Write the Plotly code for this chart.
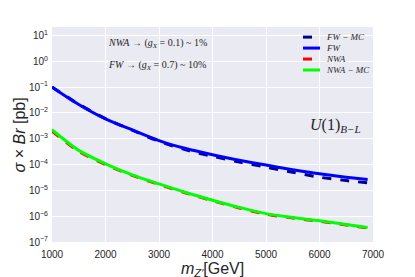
import plotly.graph_objects as go

mass = [1000, 1500, 2000, 2500, 3000, 3500, 4000, 4500, 5000, 5500, 6000, 6500, 6900]
fw_log = [-1.0, -1.67, -2.23, -2.66, -3.07, -3.38, -3.62, -3.83, -4.02, -4.2, -4.36, -4.49, -4.58]
fw_mc_log = [-0.99, -1.66, -2.22, -2.67, -3.1, -3.43, -3.68, -3.9, -4.1, -4.3, -4.49, -4.62, -4.71]
nwa_log = [-2.7, -3.49, -4.0, -4.42, -4.77, -5.1, -5.4, -5.68, -5.92, -6.07, -6.2, -6.34, -6.46]
nwa_mc_log = [-2.65, -3.45, -3.97, -4.4, -4.75, -5.08, -5.38, -5.66, -5.9, -6.05, -6.18, -6.32, -6.44]

series_names = ["FW − MC", "FW", "NWA", "NWA − MC"]
series_colors = ["#00008B", "#0000FF", "#FF0000", "#00FF00"]
series_dash = ["dash", "solid", "dash", "solid"]
series_logs = [fw_mc_log, fw_log, nwa_log, nwa_mc_log]

y_exponents = [-7, -6, -5, -4, -3, -2, -1, 0, 1]
y_ticktext = ["10<sup>" + str(e).replace("-", "−") + "</sup>" for e in y_exponents]
x_ticks = [1000, 2000, 3000, 4000, 5000, 6000, 7000]

def lin(v):
    return [10 ** x for x in v]

serif = "Liberation Serif"
txt = "#262626"
fig = go.Figure()
for name, col, dash, vals in zip(series_names, series_colors, series_dash, series_logs):
    fig.add_trace(go.Scatter(x=mass, y=lin(vals), mode="lines", name=name, showlegend=False,
                             line=dict(color=col, width=3, dash=dash, shape="spline", smoothing=0.8)))

# page body has an 8px margin; figure is sized so the plot lands where the reference has it
fig.update_layout(
    width=407, height=269,
    margin=dict(l=44, r=42, t=19, b=35),
    paper_bgcolor="white", plot_bgcolor="#EAEAF2",
    font=dict(family="Liberation Sans", size=10, color=txt),
    showlegend=False,
)
fig.update_xaxes(range=[1000, 7000], tickvals=x_ticks, ticktext=[str(v) for v in x_ticks],
                 showgrid=True, gridcolor="white", gridwidth=1,
                 zeroline=False, showline=False, ticks="", automargin=False,
                 ticklabelstandoff=5, tickfont=dict(size=10, color=txt))
fig.update_yaxes(type="log", range=[-7, 1.33], tickvals=[10.0 ** e for e in y_exponents],
                 ticktext=y_ticktext, showgrid=True,
                 gridcolor="white", gridwidth=1, zeroline=False, showline=False, ticks="",
                 automargin=False, ticklabelstandoff=3, tickfont=dict(size=10, color=txt))

# axis titles
fig.add_annotation(x=0.5, y=-0.127, xref="paper", yref="paper", xanchor="center", yanchor="middle",
                   text="<i>m</i><sub><i>Z′</i></sub>[GeV]", showarrow=False,
                   font=dict(size=16, color=txt))
fig.add_annotation(x=-0.1, y=0.5, xref="paper", yref="paper", xanchor="center", yanchor="middle",
                   text="<i>σ</i> × <i>Br</i> [pb]", showarrow=False, textangle=-90,
                   font=dict(size=16, color=txt))

# legend (drawn in paper coordinates)
leg_y = [0.953, 0.902, 0.851, 0.800]
for name, col, dash, yy in zip(series_names, series_colors, series_dash, leg_y):
    fig.add_shape(type="line", xref="paper", yref="paper", x0=0.782, x1=0.835, y0=yy, y1=yy,
                  line=dict(color=col, width=3, dash="dash" if dash == "dash" else "solid"))
    fig.add_annotation(x=0.848, y=yy, xref="paper", yref="paper", xanchor="left", yanchor="middle",
                       text="<i>" + name + "</i>", showarrow=False,
                       font=dict(family=serif, size=9, color=txt))

fig.add_annotation(x=0.168, y=0.921, xref="paper", yref="paper", xanchor="left", yanchor="middle",
                   text="<i>NWA</i> → (<i>g<sub>X</sub></i> = 0.1) ~ 1%", showarrow=False,
                   font=dict(family=serif, size=10, color=txt))
fig.add_annotation(x=0.168, y=0.823, xref="paper", yref="paper", xanchor="left", yanchor="middle",
                   text="<i>FW</i> → (<i>g<sub>X</sub></i> = 0.7) ~ 10%", showarrow=False,
                   font=dict(family=serif, size=10, color=txt))
fig.add_annotation(x=0.969, y=0.544, xref="paper", yref="paper", xanchor="right", yanchor="middle",
                   text="<i>U</i>(1)<sub><i>B−L</i></sub>", showarrow=False,
                   font=dict(family=serif, size=16, color=txt))

fig.write_html("out.html")
